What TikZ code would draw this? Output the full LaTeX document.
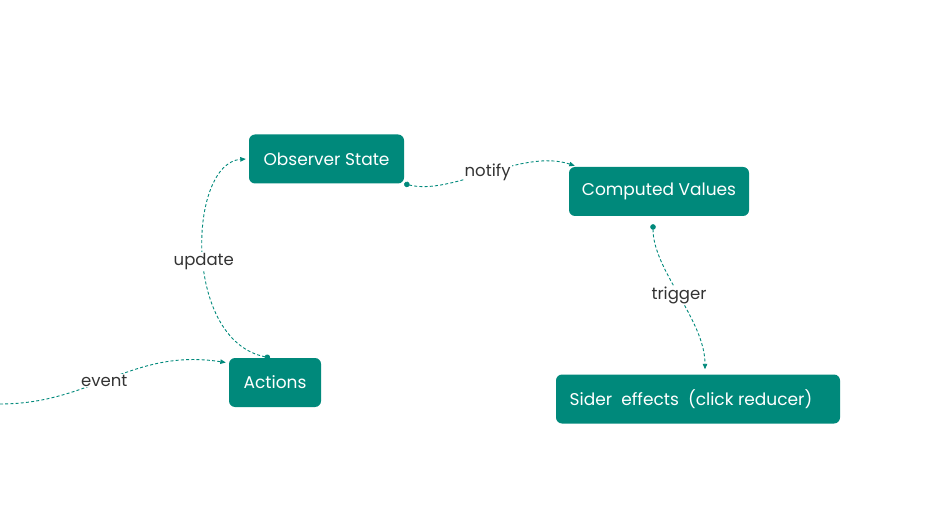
\documentclass[tikz,border=0pt]{standalone}
\usepackage{fontspec}
\setmainfont{Poppins}
\usetikzlibrary{arrows.meta}
\definecolor{boxgreen}{HTML}{00897B}
\definecolor{lbltext}{HTML}{333333}

\begin{document}
\begin{tikzpicture}[x=1pt,y=-1pt,
		box/.style={fill=boxgreen, text=white, rounded corners=6pt, minimum height=49pt, inner sep=0pt, font=\fontsize{17}{20}\selectfont},
		link/.style={draw=boxgreen, line width=0.9pt, dash pattern=on 3pt off 2.2pt, {Circle[length=5.5pt]}-{Triangle[length=5.5pt,width=4.5pt]}},
		freelink/.style={draw=boxgreen, line width=0.9pt, dash pattern=on 3pt off 2.2pt, -{Triangle[length=5.5pt,width=4.5pt]}},
		lbl/.style={fill=white, text=lbltext, inner sep=1pt, font=\fontsize{16.5}{19}\selectfont}]
		\useasboundingbox (0,0) rectangle (926,529);
		
		%boxes
		\node[box, minimum width=155pt] (observer) at (326.5,159) {Observer State};
		\node[box, minimum width=180pt] (computed) at (659,191.5) {Computed Values};
		\node[box, minimum width=92pt] (actions) at (275,382.5) {Actions};
		\node[box, minimum width=284pt] (effects) at (698,399) {Sider\ \ effects\ \ (click reducer)\kern14pt};
		
		%free end
		\coordinate (src) at (0,404);
		
		%links
		\draw[freelink] (src) .. controls (92,404) and (132,348) .. ([xshift=-3pt,yshift=20pt]actions.west) node[lbl, pos=0.46] {event};
		\draw[link] ([xshift=-5pt]actions.north) .. controls (182,340) and (188,163) .. ([xshift=-3pt]observer.west) node[lbl, pos=0.47] {update};
		\draw[link] (observer.south east) .. controls (452,196) and (522,148) .. ([xshift=6pt,yshift=1pt]computed.north west) node[lbl, pos=0.5] {notify};
		\draw[link] ([xshift=-6pt,yshift=-8pt]computed.south) .. controls (653,270) and (705,320) .. ([xshift=7pt,yshift=5pt]effects.north) node[lbl, pos=0.5] {trigger};
		
\end{tikzpicture}
\end{document}
